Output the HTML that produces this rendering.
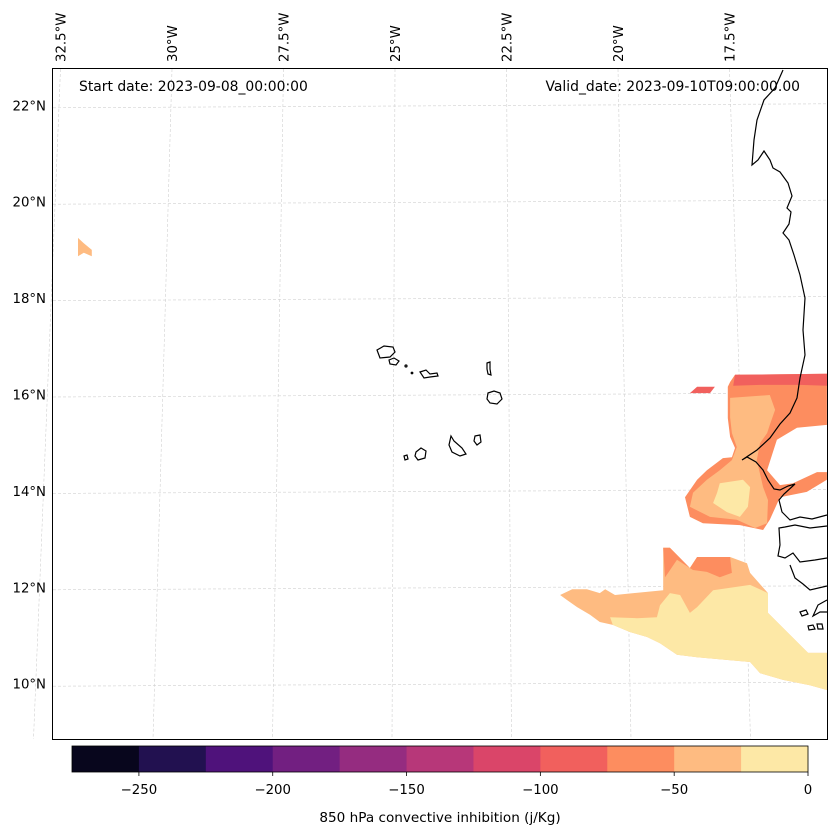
<!DOCTYPE html>
<html><head><meta charset="utf-8"><style>
body{margin:0;background:#fff}
svg{display:block;font-family:"DejaVu Sans","Liberation Sans",sans-serif}
</style></head><body>
<svg id="chart" width="837" height="836" viewBox="0 0 837 836" xmlns="http://www.w3.org/2000/svg">
<g id="grid"></g>
<g id="fills"></g>
<g id="coast" fill="none" stroke="#000" stroke-width="1.2">
<path d="M783,70 L775,88 L764,100 L757,120 L754,140 L752,165 L758,160 L764,151 L770,160 L773,168 L780,172 L788,183 L792,196 L787,208 L791,212 L789,224 L783,233 L789,240 L794,255 L800,275 L805,298 L803,330 L805,355 L800,378 L797,398 L790,413 L780,424 L770,438 L757,450 L742,460 L747,457 L756,462 L763,470 L768,480 L774,489 L780,490 L788,486 L795,484 L784,494 L779,500 L782,512 L790,520 L800,517 L812,519 L827,515"/>
<path d="M827,526 L810,528 L795,525 L785,527 L779,528 L780,545 L778,556 L785,558 L793,553 L800,562 L815,560 L827,558 M790,565 L795,578 L803,584 L810,590 L827,586 M827,600 L818,605 L813,616 L820,612 L827,612"/>
<path d="M800,612 l6,-2 l2,4 l-6,2z M808,626 l5,-1 l2,4 l-6,1z M817,624 l5,0 l1,5 l-5,0z"/>
<path d="M377,350 L384,346 L393,347 L395,352 L390,357 L380,358 Z"/>
<path d="M389,360 L394,358 L399,361 L396,365 L390,364 Z"/>
<path d="M420,372 L426,370 L430,374 L437,373 L438,376 L430,377 L424,378 Z"/>
<path d="M487,363 L490,362 L490,369 L491,375 L488,374 L487,369 Z"/>
<path d="M488,393 L494,391 L500,393 L502,399 L497,404 L490,403 L487,399 Z"/>
<path d="M451,436 L454,441 L462,448 L466,454 L460,456 L452,452 L449,445 Z"/>
<path d="M475,436 L480,435 L481,442 L477,445 L474,441 Z"/>
<path d="M416,452 L421,448 L426,451 L425,458 L418,460 L415,456 Z"/>
<path d="M404,456 L407,455 L408,459 L405,460 Z"/>
<circle cx="406" cy="366" r="1"/><circle cx="412" cy="373" r="0.8"/>
</g>
<rect x="52.5" y="68.5" width="775" height="671" fill="none" stroke="#000" stroke-width="1"/>
<g id="labels" font-size="13.3" fill="#000"></g>
<text x="79" y="91" font-size="13.9">Start date: 2023-09-08_00:00:00</text>
<text x="800" y="91" font-size="13.9" text-anchor="end">Valid_date: 2023-09-10T09:00:00.00</text>
<g id="cbar"></g>
<text x="440" y="822" font-size="13.6" text-anchor="middle">850 hPa convective inhibition (j/Kg)</text>
</svg>
<script>
// colorbar data
const levels = [-275,-250,-225,-200,-175,-150,-125,-100,-75,-50,-25,0];
const levelColors = ["#08061d","#221150","#4f127b","#721f81","#952c80","#b73779","#da4569","#f1605d","#fd8d5f","#febb81","#fde8a6"];
const cbarTicks = [-250,-200,-150,-100,-50,0];
const latTicks = [22,20,18,16,14,12,10];
const lonTicks = [-32.5,-30,-27.5,-25,-22.5,-20,-17.5];
// contour polygons: [lon,lat] vertices, with CIN band lower bound
const cinBands = [-75,-100,-100,-50,-25,-50,-75,-25,-50];
const cinPolys = [
 [[-17.42,16.27],[-17.31,16.42],[-15.25,16.44],[-15.25,15.38],[-15.92,15.32],[-16.37,15.07],[-16.59,14.44],[-16.30,14.13],[-16.01,14.17],[-15.47,14.40],[-15.25,14.40],[-15.25,14.24],[-15.70,13.99],[-16.30,13.88],[-16.53,13.41],[-16.68,13.20],[-17.20,13.30],[-18.03,13.34],[-18.32,13.47],[-18.43,13.88],[-18.16,14.24],[-17.94,14.44],[-17.58,14.69],[-17.38,14.71],[-17.31,14.90],[-17.42,15.13],[-17.47,15.52],[-17.47,16.17]],
 [[-17.31,16.42],[-15.25,16.44],[-15.25,16.19],[-15.85,16.21],[-16.75,16.21],[-17.35,16.19]],
 [[-18.32,16.04],[-18.16,16.17],[-17.76,16.17],[-17.87,16.04]],
 [[-17.42,15.94],[-16.53,16.00],[-16.41,15.69],[-16.53,15.38],[-16.59,15.21],[-16.75,15.00],[-16.82,14.65],[-16.68,14.09],[-16.57,13.82],[-16.59,13.34],[-16.86,13.24],[-17.27,13.41],[-17.87,13.47],[-18.32,13.68],[-18.25,13.97],[-17.94,14.24],[-17.65,14.44],[-17.38,14.65],[-17.27,14.92],[-17.38,15.21],[-17.42,15.54]],
 [[-17.65,14.17],[-17.13,14.24],[-16.97,14.09],[-17.02,13.68],[-17.20,13.47],[-17.49,13.57],[-17.80,13.76],[-17.71,13.97]],
 [[-21.23,11.85],[-20.96,11.97],[-20.63,11.97],[-20.34,11.89],[-20.22,11.97],[-20.00,11.85],[-18.92,11.95],[-18.92,12.83],[-18.77,12.83],[-18.32,12.41],[-18.16,12.64],[-17.42,12.64],[-17.04,12.51],[-16.97,12.31],[-16.57,11.89],[-16.57,11.48],[-15.67,10.65],[-15.25,10.65],[-15.25,9.88],[-15.63,9.98],[-16.23,10.09],[-16.75,10.23],[-16.97,10.46],[-18.16,10.56],[-18.61,10.61],[-18.99,10.85],[-19.28,10.98],[-19.66,11.08],[-20.05,11.23],[-20.34,11.29],[-20.56,11.44],[-20.85,11.60],[-21.08,11.75]],
 [[-18.92,12.83],[-18.77,12.83],[-18.32,12.41],[-18.16,12.64],[-17.42,12.64],[-17.38,12.31],[-17.65,12.22],[-17.94,12.33],[-18.25,12.37],[-18.61,12.58],[-18.81,12.31],[-18.88,12.22]],
 [[-20.11,11.39],[-19.51,11.37],[-19.06,11.39],[-18.99,11.64],[-18.77,11.89],[-18.54,11.85],[-18.32,11.48],[-18.16,11.60],[-17.80,11.95],[-16.97,12.06],[-16.57,11.89],[-16.57,11.48],[-15.67,10.65],[-15.25,10.65],[-15.25,9.88],[-15.63,9.98],[-16.23,10.09],[-16.75,10.23],[-16.97,10.46],[-18.16,10.56],[-18.61,10.61],[-18.99,10.85],[-19.28,10.98],[-19.66,11.08],[-20.05,11.23]],
 [[-32.04,19.26],[-31.91,19.15],[-31.73,19.01],[-31.73,18.88],[-31.91,18.95],[-32.04,18.88]]
];
const NS="http://www.w3.org/2000/svg";
function xOf(lon){return 392+(lon+25)*44.6;}
function yOf(lat){return 395-(lat-16)*48.2;}
function colorFor(v){for(let i=0;i<levels.length-1;i++){if(v>=levels[i]&&v<levels[i+1])return levelColors[i];}return levelColors[levelColors.length-1];}
function el(t,a,p){const e=document.createElementNS(NS,t);for(const k in a)e.setAttribute(k,a[k]);p.appendChild(e);return e;}
const grid=document.getElementById('grid'), fills=document.getElementById('fills'), labels=document.getElementById('labels'), cbar=document.getElementById('cbar');
latTicks.forEach(lat=>{
 const y=yOf(lat);
 const ln=el('line',{x1:53,x2:827,y1:y+2,y2:y-2,stroke:'#d0d0d0','stroke-width':0.6,'stroke-dasharray':'3,2'},grid);
 
 
 const t=el('text',{x:46,y:y+4.5,'text-anchor':'end'},labels);
 
 
 t.textContent=lat+'°N';
});
lonTicks.forEach(lon=>{
 const xt=xOf(lon)+3;
 const xb=xOf(lon)+(lon+25)*3.2;
 const ln=el('line',{x1:xt,x2:xb,y1:69,y2:739,stroke:'#d0d0d0','stroke-width':0.6,'stroke-dasharray':'3,2'},grid);
 
 
 const tx=xt+5;
 const t=el('text',{x:tx,y:62,transform:'rotate(-90 '+tx+' 62)'},labels);
 
 
 t.textContent=Math.abs(lon)+'°W';
});
cinPolys.forEach((poly,i)=>{
 const p=el('polygon',{points:poly.map(v=>xOf(v[0]).toFixed(1)+','+yOf(v[1]).toFixed(1)).join(' '),fill:colorFor(cinBands[i])},fills);
 
 
});
const cx0=72,cx1=808,cy=746,ch=26;
function cbX(v){return cx0+(v-levels[0])/(levels[levels.length-1]-levels[0])*(cx1-cx0);}
for(let i=0;i<levelColors.length;i++){
 const r=el('rect',{x:cbX(levels[i]),y:cy,width:cbX(levels[i+1])-cbX(levels[i])+0.5,height:ch,fill:levelColors[i]},cbar);
 
 
}
const fr=el('rect',{x:cx0,y:cy,width:cx1-cx0,height:ch,fill:'none',stroke:'#000','stroke-width':0.8},cbar);


cbarTicks.forEach(v=>{
 const x=cbX(v);
 const tk=el('line',{x1:x,x2:x,y1:cy+ch,y2:cy+ch+4,stroke:'#000','stroke-width':0.8},cbar);
 
 
 const t=el('text',{x:x,y:794,'text-anchor':'middle','font-size':13.3},cbar);
 
 
 t.textContent=(v<0?'\u2212'+Math.abs(v):String(v));
});
</script>
</body></html>
